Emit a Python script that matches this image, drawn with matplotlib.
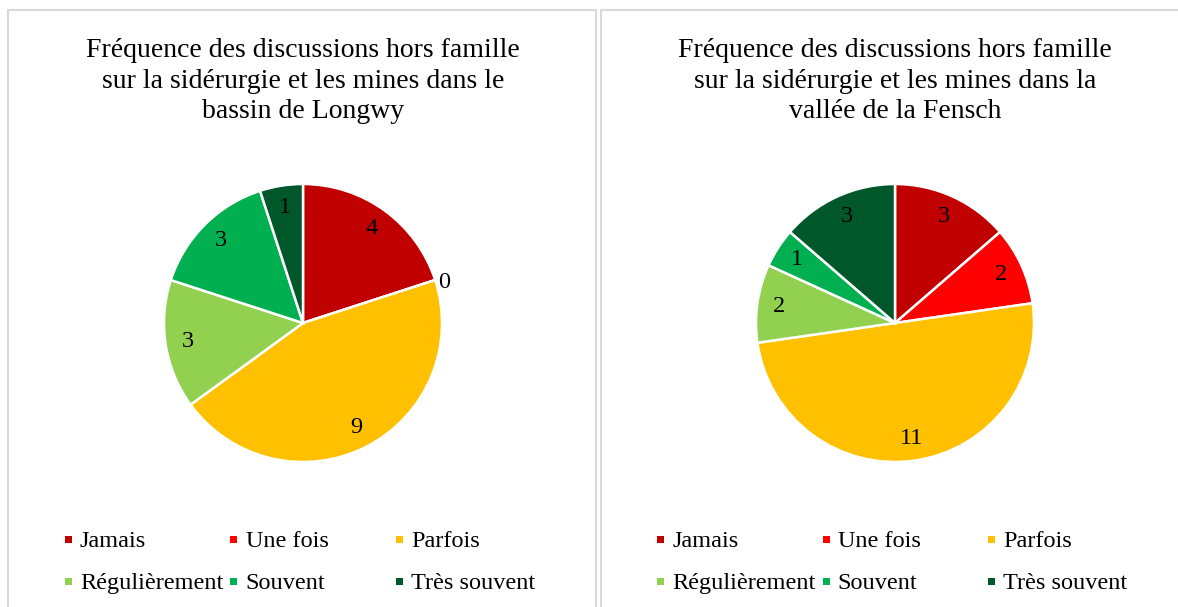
import matplotlib.pyplot as plt
from matplotlib.patches import Rectangle
import numpy as np

# data
categories = ['Jamais', 'Une fois', 'Parfois', 'Régulièrement', 'Souvent', 'Très souvent']
longwy_values = [4, 0, 9, 3, 3, 1]
fensch_values = [3, 2, 11, 2, 1, 3]
colors = ['#C00000', '#FF0000', '#FFC000', '#92D050', '#00B050', '#00582A']
title_longwy = ("Fréquence des discussions hors famille\n"
                "sur la sidérurgie et les mines dans le\n"
                "bassin de Longwy")
title_fensch = ("Fréquence des discussions hors famille\n"
                "sur la sidérurgie et les mines dans la\n"
                "vallée de la Fensch")

W, H = 1178, 607
FONT = 'Liberation Serif'
FS_TITLE = 20
FS = 17.5

fig = plt.figure(figsize=(W / 100, H / 100), dpi=100)
fig.patch.set_facecolor('white')


def fx(x):
    return x / W


def fy(y):
    return 1 - y / H


def draw_panel(cx, values, title):
    cy, r = 323, 139
    ax = fig.add_axes([fx(cx - r), fy(cy + r), 2 * r / W, 2 * r / H])
    wedges, _, autotexts = ax.pie(
        values, colors=colors, startangle=90, counterclock=False,
        autopct='%1.0f', pctdistance=0.84,
        wedgeprops=dict(edgecolor='white', linewidth=1.8),
        textprops=dict(fontsize=FS, family=FONT, color='black'))
    for w, t, v in zip(wedges, autotexts, values):
        t.set_text(str(v))
        if v == 0:
            ang = np.deg2rad((w.theta1 + w.theta2) / 2)
            t.set_position((1.07 * np.cos(ang), 1.07 * np.sin(ang) - 0.04))
    ax.set_xlim(-1, 1)
    ax.set_ylim(-1, 1)
    ax.axis('off')

    fig.text(fx(cx), fy(81), title, ha='center', va='center',
             fontsize=FS_TITLE, family=FONT, linespacing=1.27)

    # legend, 3 columns x 2 rows
    x0 = cx - 234.5
    for i, cat in enumerate(categories):
        col, row = i % 3, i // 3
        mx = x0 + col * 165.5
        base = 547 + row * 42
        my = base - 7.5
        fig.add_artist(Rectangle((fx(mx - 3.5), fy(my + 3.5)), 7 / W, 7 / H,
                                 transform=fig.transFigure,
                                 facecolor=colors[i], edgecolor='none'))
        fig.text(fx(mx + 11.5), fy(base), cat, ha='left', va='baseline',
                 fontsize=FS, family=FONT)


draw_panel(303, longwy_values, title_longwy)
draw_panel(895, fensch_values, title_fensch)

# panel borders
border = '#D9D9D9'
fig.add_artist(Rectangle((fx(8), fy(620)), (596 - 8) / W, (620 - 10) / H,
                         transform=fig.transFigure, fill=False,
                         edgecolor=border, linewidth=1.5))
fig.add_artist(Rectangle((fx(601), fy(620)), (1200 - 601) / W, (620 - 10) / H,
                         transform=fig.transFigure, fill=False,
                         edgecolor=border, linewidth=1.5))

fig.savefig('out.png', dpi=100)
